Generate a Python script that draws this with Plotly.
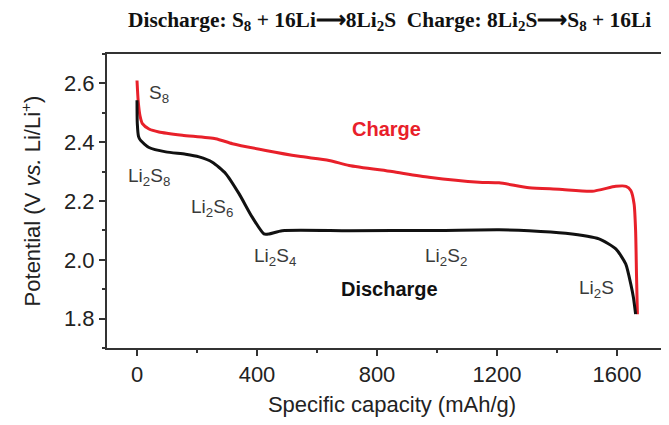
import plotly.graph_objects as go

# Charge curve (red)
charge_x = [0, 4, 10, 18, 40, 73, 151, 262, 318, 429, 540, 640, 707, 850, 973, 1140, 1207, 1307,
            1407, 1517, 1596, 1630, 1646, 1657, 1662, 1665, 1668]
charge_y = [2.61, 2.54, 2.49, 2.463, 2.445, 2.435, 2.424, 2.412, 2.395, 2.372, 2.352, 2.338, 2.321,
            2.30, 2.281, 2.264, 2.262, 2.245, 2.240, 2.233, 2.250, 2.250, 2.236, 2.19, 2.10, 1.95, 1.815]

# Discharge curve (black)
discharge_x = [0, 1, 5, 12, 40, 96, 162, 207, 251, 296, 340, 384, 423, 440, 484, 707, 1000, 1207,
               1307, 1429, 1540, 1596, 1629, 1646, 1655, 1662]
discharge_y = [2.543, 2.463, 2.42, 2.406, 2.382, 2.367, 2.359, 2.350, 2.332, 2.293, 2.225, 2.145,
               2.088, 2.088, 2.099, 2.099, 2.100, 2.102, 2.099, 2.090, 2.071, 2.037, 1.986, 1.917,
               1.87, 1.815]

# Species labels
label_text = ["S<sub>8</sub>", "Li<sub>2</sub>S<sub>8</sub>", "Li<sub>2</sub>S<sub>6</sub>",
              "Li<sub>2</sub>S<sub>4</sub>", "Li<sub>2</sub>S<sub>2</sub>", "Li<sub>2</sub>S"]
label_x = [73, 40, 250, 460, 1030, 1530]
label_y = [2.563, 2.28, 2.175, 2.011, 2.011, 1.90]

x_ticks = [0, 400, 800, 1200, 1600]
y_ticks = [1.8, 2.0, 2.2, 2.4, 2.6]

fig = go.Figure()
fig.add_trace(go.Scatter(x=charge_x, y=charge_y, mode="lines",
                         line=dict(color="#e8202a", width=3, shape="spline", smoothing=0.6),
                         showlegend=False))
fig.add_trace(go.Scatter(x=discharge_x, y=discharge_y, mode="lines",
                         line=dict(color="#111111", width=3, shape="spline", smoothing=0.6),
                         showlegend=False))

for t, x, y in zip(label_text, label_x, label_y):
    fig.add_annotation(x=x, y=y, text=t, showarrow=False,
                       font=dict(family="Liberation Sans, Arial", size=19, color="#3a3a3a"))

fig.add_annotation(x=833, y=2.444, text="<b>Charge</b>", showarrow=False,
                   font=dict(family="Liberation Sans, Arial", size=20, color="#e8202a"))
fig.add_annotation(x=843, y=1.90, text="<b>Discharge</b>", showarrow=False,
                   font=dict(family="Liberation Sans, Arial", size=20, color="#111111"))

fig.add_annotation(xref="paper", yref="paper", x=0.496, y=1.112,
                   text="<b>Discharge: S<sub>8</sub> + 16Li⟶8Li<sub>2</sub>S  Charge: 8Li<sub>2</sub>S⟶S<sub>8</sub> + 16Li</b>",
                   showarrow=False, xanchor="center", yanchor="middle",
                   font=dict(family="Liberation Serif, Times New Roman", size=21.4, color="#111111"))

axis_common = dict(showline=True, linecolor="#333333", linewidth=2, mirror=True,
                   ticks="outside", ticklen=6, tickwidth=2, tickcolor="#333333",
                   showgrid=False, zeroline=False, automargin=False,
                   tickfont=dict(family="Liberation Sans, Arial", size=22, color="#222222"))

fig.update_xaxes(range=[-100, 1800], tickvals=x_ticks,
                 minor=dict(ticks="outside", ticklen=3, tickwidth=2, tickcolor="#333333", dtick=200, tick0=0),
                 title=dict(text="Specific capacity (mAh/g)", standoff=10,
                            font=dict(family="Liberation Sans, Arial", size=22, color="#222222")),
                 **axis_common)
fig.update_yaxes(range=[1.7, 2.7], tickvals=y_ticks, tickformat=".1f",
                 minor=dict(ticks="outside", ticklen=3, tickwidth=2, tickcolor="#333333", dtick=0.1, tick0=1.7),
                 title=dict(text="Potential (V <i>vs.</i> Li/Li<sup>+</sup>)", standoff=17,
                            font=dict(family="Liberation Sans, Arial", size=22, color="#222222")),
                 **axis_common)

fig.update_layout(width=669, height=425, margin=dict(l=99, r=0, t=46, b=85),
                  plot_bgcolor="white", paper_bgcolor="white")

fig.write_html("out.html")
